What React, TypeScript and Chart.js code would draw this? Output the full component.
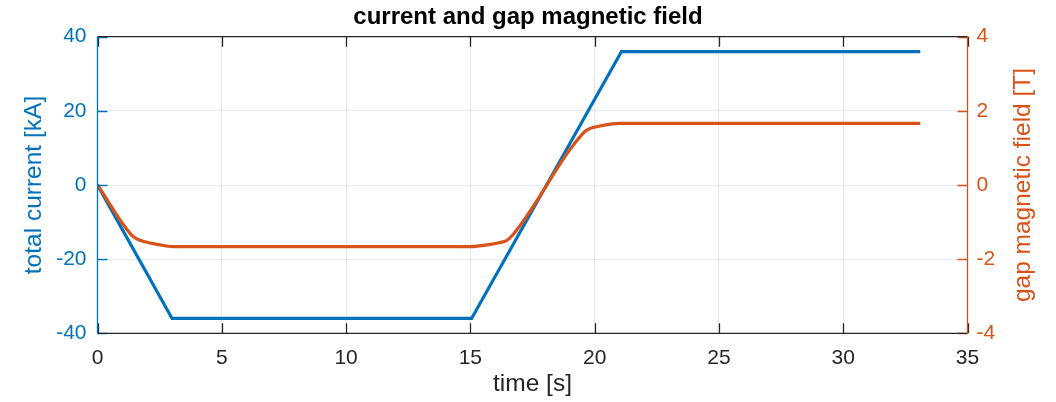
import React, { useEffect, useRef } from "react";
import { Chart, registerables } from "chart.js";

Chart.register(...registerables);

// ---- data ----
const currentTime = [0, 3.0, 15.05, 21.08, 33.1];
const currentKA = [0, -36, -36, 36, 36];

const fieldTime = [0, 1.37, 1.6, 1.9, 2.4, 3.05, 15.0, 15.8, 16.2, 16.45, 16.65, 19.6, 19.8, 20.07, 21.0, 33.1];
const fieldT = [0, -1.35, -1.46, -1.53, -1.6, -1.66, -1.66, -1.6, -1.55, -1.5, -1.39, 1.44, 1.52, 1.57, 1.66, 1.66];

const xTicks = [0, 5, 10, 15, 20, 25, 30, 35];
const leftTicks = [-40, -20, 0, 20, 40];
const rightTicks = [-4, -2, 0, 2, 4];

const titleText = "current and gap magnetic field";
const xTitle = "time [s]";
const leftTitle = "total current [kA]";
const rightTitle = "gap magnetic field [T]";

const BLUE = "#0072BD";
const ORANGE = "#D95319";
const DARK = "#262626";
const FONT = "'Liberation Sans', Arial, Helvetica, sans-serif";
const TICK_SIZE = 21;
const LABEL_SIZE = 24.5;

const boxPlugin = {
  id: "matlabBox",
  afterDraw(chart: any) {
    const { ctx, chartArea } = chart;
    const { left, right, top, bottom } = chartArea;
    const xs = chart.scales.x;
    const yl = chart.scales.y;
    const yr = chart.scales.y1;
    const TL = 10;
    ctx.save();
    ctx.lineWidth = 1.3;
    ctx.strokeStyle = DARK;
    ctx.beginPath();
    xTicks.forEach((v) => {
      const px = Math.round(xs.getPixelForValue(v)) + 0.5;
      ctx.moveTo(px, bottom);
      ctx.lineTo(px, bottom - TL);
      ctx.moveTo(px, top);
      ctx.lineTo(px, top + TL);
    });
    ctx.stroke();
    ctx.strokeStyle = BLUE;
    ctx.beginPath();
    leftTicks.forEach((v) => {
      const py = Math.round(yl.getPixelForValue(v)) + 0.5;
      ctx.moveTo(left, py);
      ctx.lineTo(left + TL, py);
    });
    ctx.stroke();
    ctx.strokeStyle = ORANGE;
    ctx.beginPath();
    rightTicks.forEach((v) => {
      const py = Math.round(yr.getPixelForValue(v)) + 0.5;
      ctx.moveTo(right, py);
      ctx.lineTo(right - TL, py);
    });
    ctx.stroke();
    ctx.strokeStyle = DARK;
    ctx.beginPath();
    ctx.moveTo(left, top);
    ctx.lineTo(right, top);
    ctx.moveTo(left, bottom);
    ctx.lineTo(right, bottom);
    ctx.stroke();
    ctx.strokeStyle = BLUE;
    ctx.beginPath();
    ctx.moveTo(left, top);
    ctx.lineTo(left, bottom);
    ctx.stroke();
    ctx.strokeStyle = ORANGE;
    ctx.beginPath();
    ctx.moveTo(right, top);
    ctx.lineTo(right, bottom);
    ctx.stroke();

    // right axis title, reading bottom-to-top as in MATLAB
    ctx.fillStyle = ORANGE;
    ctx.font = `${LABEL_SIZE}px ${FONT}`;
    ctx.textAlign = "center";
    ctx.textBaseline = "middle";
    ctx.translate(1023, (top + bottom) / 2);
    ctx.rotate(-Math.PI / 2);
    ctx.fillText(rightTitle, 0, 0);
    ctx.restore();
  },
};

export default function App() {
  const ref = useRef<HTMLCanvasElement | null>(null);

  useEffect(() => {
    if (!ref.current) return;
    const chart = new Chart(ref.current, {
      type: "line",
      data: {
        datasets: [
          {
            label: "gap magnetic field",
            data: fieldTime.map((t, i) => ({ x: t, y: fieldT[i] })),
            yAxisID: "y1",
            borderColor: ORANGE,
            backgroundColor: ORANGE,
            borderWidth: 3.2,
            pointRadius: 0,
            cubicInterpolationMode: "monotone",
            order: 0,
          },
          {
            label: "total current",
            data: currentTime.map((t, i) => ({ x: t, y: currentKA[i] })),
            yAxisID: "y",
            borderColor: BLUE,
            backgroundColor: BLUE,
            borderWidth: 3.2,
            pointRadius: 0,
            tension: 0,
            order: 1,
          },
        ],
      },
      options: {
        animation: false,
        responsive: false,
        devicePixelRatio: 1,
        layout: { padding: 0 },
        plugins: {
          legend: { display: false },
          tooltip: { enabled: false },
          title: {
            display: true,
            text: titleText,
            color: "#000",
            font: { family: FONT, size: 24, weight: "bold" },
            padding: { top: 2.5, bottom: 5.4 },
          },
        },
        scales: {
          x: {
            type: "linear",
            min: 0,
            max: 35,
            afterBuildTicks: (s: any) => {
              s.ticks = xTicks.map((v) => ({ value: v }));
            },
            afterFit: (s: any) => {
              s.height = 68.7;
            },
            ticks: {
              color: DARK,
              font: { family: FONT, size: TICK_SIZE },
              padding: 12.5,
              maxRotation: 0,
            },
            grid: { color: "rgba(38,38,38,0.11)", drawTicks: false, lineWidth: 1 },
            border: { display: false },
            title: {
              display: true,
              text: xTitle,
              color: DARK,
              font: { family: FONT, size: LABEL_SIZE },
              padding: { top: 0, bottom: 3.5 },
            },
          },
          y: {
            type: "linear",
            position: "left",
            min: -40,
            max: 40,
            afterBuildTicks: (s: any) => {
              s.ticks = leftTicks.map((v) => ({ value: v }));
            },
            afterFit: (s: any) => {
              s.width = 97.5;
            },
            ticks: {
              color: BLUE,
              font: { family: FONT, size: TICK_SIZE },
              padding: 11,
            },
            grid: { color: "rgba(60,100,150,0.13)", drawTicks: false, lineWidth: 1 },
            border: { display: false },
            title: {
              display: true,
              text: leftTitle,
              color: BLUE,
              font: { family: FONT, size: LABEL_SIZE },
              padding: { top: 19.3, bottom: 0 },
            },
          },
          y1: {
            type: "linear",
            position: "right",
            min: -4,
            max: 4,
            afterBuildTicks: (s: any) => {
              s.ticks = rightTicks.map((v) => ({ value: v }));
            },
            afterFit: (s: any) => {
              s.width = 88.5;
            },
            ticks: {
              color: ORANGE,
              font: { family: FONT, size: TICK_SIZE },
              padding: 9,
            },
            grid: { drawOnChartArea: false, drawTicks: false },
            border: { display: false },
            title: { display: false },
          },
        },
      },
      plugins: [boxPlugin],
    } as any);
    return () => chart.destroy();
  }, []);

  return (
    <div style={{ position: "absolute", left: 0, top: 0, width: 1056, height: 402, background: "#fff" }}>
      <canvas ref={ref} width={1056} height={402} style={{ display: "block" }} />
    </div>
  );
}
